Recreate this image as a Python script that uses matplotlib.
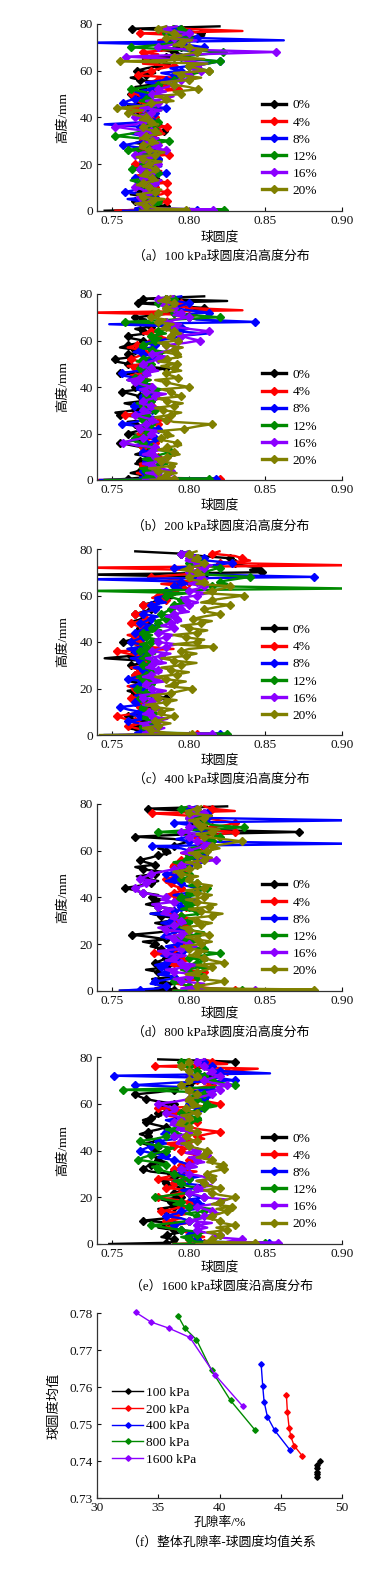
import matplotlib
matplotlib.use('Agg')
import matplotlib.pyplot as plt
from matplotlib.lines import Line2D
from matplotlib.ticker import FormatStrFormatter

plt.rcParams['font.family'] = ['Liberation Serif', 'Noto Sans CJK SC']
plt.rcParams['axes.unicode_minus'] = False

# ---------------- data ----------------
# measurement heights (mm)
H = [0, 0.5,
     1, 2, 3, 4, 5, 6, 7, 8, 9, 10,
     11, 12, 13, 14, 15, 16, 17, 18, 19, 20,
     21, 22, 23, 24, 25, 26, 27, 28, 29, 30,
     31, 32, 33, 34, 35, 36, 37, 38, 39, 40,
     41, 42, 43, 44, 45, 46, 47, 48, 49, 50,
     51, 52, 53, 54, 55, 56, 57, 58, 59, 60,
     61, 62, 63, 64, 65, 66, 67, 68, 69, 70,
     71, 72, 73, 74, 75, 76, 77, 78, 79]

labels = ['0%', '4%', '8%', '12%', '16%', '20%']

# (a) 100 kPa : sphericity at each height
a0 = [.745, .778,
      .770, .785, .772, .765, .778, .772, .762, .768, .780, .775,
      .766, .770, .782, .778, .768, .772, .780, .768, .770, .775,
      .768, .780, .770, .772, .782, .768, .774, .776, .765, .770,
      .780, .775, .768, .784, .770, .772, .782, .778, .768, .770,
      .776, .765, .772, .770, .760, .768, .775, .773, .766, .762,
      .772, .770, .765, .775, .780, .768, .762, .772, .778, .766,
      .772, .780, .788, .778, .770, .785, .795, .790, .782, .795,
      .800, .792, .785, .795, .810, .808, .800, .763, .820]
a4 = [.752, .770,
      .765, .775, .780, .786, .768, .770, .782, .786, .772, .778,
      .770, .786, .778, .772, .765, .776, .782, .770, .775, .765,
      .780, .775, .770, .787, .776, .772, .766, .778, .782, .770,
      .768, .776, .784, .780, .772, .786, .775, .772, .768, .778,
      .772, .770, .760, .765, .776, .772, .766, .768, .772, .763,
      .780, .793, .776, .785, .772, .780, .790, .767, .770, .775,
      .782, .790, .770, .778, .785, .772, .780, .770, .790, .782,
      .788, .795, .780, .790, .800, .768, .835, .795, .790]
a8 = [.757, .805,
      .765, .772, .780, .768, .760, .778, .770, .758, .766, .770,
      .780, .775, .770, .765, .778, .785, .768, .772, .782, .778,
      .770, .780, .765, .770, .782, .776, .768, .757, .765, .772,
      .780, .770, .762, .775, .780, .768, .745, .772, .778, .772,
      .768, .778, .772, .785, .770, .757, .760, .765, .775, .770,
      .765, .775, .782, .780, .772, .785, .795, .790, .782, .795,
      .788, .800, .812, .820, .798, .790, .800, .805, .795, .810,
      .800, .735, .862, .805, .792, .800, .785, .790, .795]
a12 = [.770, .823,
       .768, .775, .782, .780, .772, .770, .778, .778, .770, .772,
       .776, .768, .762, .775, .770, .780, .772, .763, .776, .770,
       .782, .775, .768, .770, .776, .760, .770, .772, .780, .787,
       .768, .752, .762, .770, .780, .776, .770, .780, .774, .772,
       .768, .775, .782, .770, .772, .778, .768, .772, .780, .776,
       .770, .762, .772, .780, .786, .790, .795, .800, .805, .813,
       .806, .800, .812, .820, .805, .795, .810, .822, .790, .762,
       .780, .790, .798, .800, .790, .785, .800, .795, .790]
a16 = [.772, .816,
       .778, .770, .765, .775, .780, .768, .776, .772, .770, .765,
       .772, .778, .782, .770, .768, .775, .780, .768, .772, .780,
       .768, .772, .778, .765, .770, .785, .776, .780, .770, .776,
       .780, .770, .765, .775, .762, .752, .765, .770, .776, .765,
       .770, .775, .782, .770, .778, .780, .772, .785, .790, .776,
       .785, .780, .786, .790, .784, .795, .805, .800, .795, .808,
       .800, .805, .812, .800, .790, .759, .805, .857, .800, .780,
       .788, .795, .805, .790, .795, .800, .790, .785, .792]
a20 = [.768, .798,
       .780, .772, .765, .776, .784, .770, .766, .778, .782, .774,
       .766, .770, .780, .776, .768, .772, .780, .778, .770, .774,
       .782, .770, .766, .778, .784, .774, .768, .770, .780, .776,
       .768, .772, .782, .778, .772, .770, .780, .775, .768, .772,
       .765, .760, .770, .753, .770, .775, .790, .785, .778, .795,
       .790, .806, .800, .790, .782, .800, .808, .795, .790, .813,
       .805, .800, .812, .755, .810, .790, .798, .805, .812, .800,
       .790, .795, .802, .785, .795, .790, .782, .780, .785]

# (b) 200 kPa
b0 = [.745, .760,
      .768, .770, .762, .768, .775, .772, .765, .768, .770, .775,
      .765, .770, .776, .770, .762, .755, .765, .768, .772, .760,
      .766, .770, .772, .765, .760, .775, .768, .755, .752, .765,
      .770, .765, .758, .770, .772, .768, .762, .756, .768, .765,
      .772, .768, .760, .765, .770, .755, .775, .785, .768, .760,
      .752, .752, .765, .760, .770, .765, .755, .760, .768, .770,
      .762, .760, .772, .770, .765, .775, .770, .768, .772, .765,
      .780, .790, .800, .810, .790, .767, .825, .770, .810]
b4 = [.740, .820,
      .780, .772, .766, .778, .782, .770, .768, .776, .784, .780,
      .770, .775, .780, .770, .765, .778, .782, .772, .766, .768,
      .778, .775, .770, .780, .776, .786, .770, .758, .768, .772,
      .780, .776, .768, .770, .782, .778, .770, .772, .780, .775,
      .766, .770, .775, .768, .762, .772, .770, .765, .760, .770,
      .768, .762, .766, .770, .775, .768, .760, .766, .772, .775,
      .785, .780, .770, .775, .782, .790, .795, .785, .790, .800,
      .805, .735, .835, .800, .790, .795, .788, .785, .790]
b8 = [.742, .818,
      .768, .775, .782, .770, .776, .780, .770, .772, .780, .776,
      .768, .770, .778, .775, .765, .772, .780, .778, .770, .774,
      .772, .780, .770, .756, .765, .772, .778, .770, .765, .776,
      .770, .764, .772, .775, .768, .770, .778, .772, .766, .768,
      .775, .770, .760, .765, .756, .756, .768, .770, .776, .772,
      .768, .775, .780, .770, .764, .768, .775, .778, .770, .780,
      .790, .795, .812, .790, .800, .795, .748, .843, .805, .800,
      .790, .813, .800, .790, .795, .800, .792, .785, .795]
b12 = [.745, .813,
       .770, .776, .782, .772, .768, .780, .786, .775, .770, .778,
       .782, .788, .780, .775, .768, .770, .762, .765, .770, .772,
       .778, .768, .772, .775, .780, .770, .766, .772, .776, .778,
       .782, .770, .766, .775, .780, .772, .770, .778, .782, .774,
       .768, .770, .775, .765, .770, .772, .776, .768, .772, .775,
       .766, .770, .776, .780, .785, .776, .768, .770, .775, .778,
       .782, .775, .785, .780, .788, .790, .795, .758, .790, .820,
       .800, .790, .795, .785, .790, .780, .786, .790, .785]
b16 = [.770, .790,
       .786, .780, .772, .788, .782, .776, .770, .782, .786, .778,
       .770, .775, .782, .778, .765, .757, .762, .770, .778, .775,
       .782, .768, .765, .772, .780, .776, .770, .765, .775, .770,
       .780, .775, .768, .770, .776, .778, .785, .772, .768, .776,
       .770, .765, .760, .768, .775, .772, .780, .775, .768, .770,
       .775, .780, .786, .776, .782, .790, .795, .785, .798, .807,
       .800, .795, .805, .813, .800, .790, .795, .785, .792, .800,
       .790, .795, .788, .790, .782, .785, .780, .780, .790]
b20 = [.775, .790,
       .780, .785, .792, .780, .774, .788, .792, .782, .778, .786,
       .794, .790, .780, .786, .795, .792, .784, .782, .790, .786,
       .780, .797, .805, .815, .790, .785, .778, .788, .795, .783,
       .778, .790, .796, .786, .780, .795, .790, .788, .782, .800,
       .792, .785, .778, .793, .788, .785, .795, .790, .782, .792,
       .780, .786, .795, .792, .784, .790, .796, .785, .780, .793,
       .786, .788, .795, .790, .782, .785, .790, .780, .785, .775,
       .782, .780, .790, .785, .792, .790, .780, .785, .788]

# (c) 400 kPa
c0 = [.760, .770,
      .775, .768, .760, .765, .772, .770, .764, .760, .772, .768,
      .778, .772, .768, .775, .780, .785, .772, .765, .760, .770,
      .775, .768, .762, .772, .766, .765, .772, .770, .768, .762,
      .770, .768, .745, .762, .775, .765, .760, .770, .765, .757,
      .762, .765, .772, .770, .766, .768, .775, .772, .764, .770,
      .772, .765, .770, .775, .780, .770, .776, .780, .790, .785,
      .788, .790, .800, .795, .790, .800, .805, .810, .735, .848,
      .840, .845, .835, .830, .828, .827, .808, .795, .765]
c4 = [.765, .805,
      .770, .772, .765, .760, .770, .765, .758, .753, .762, .770,
      .775, .768, .765, .772, .768, .762, .770, .768, .772, .765,
      .760, .770, .776, .775, .768, .765, .770, .768, .762, .772,
      .776, .770, .765, .768, .760, .753, .790, .772, .765, .768,
      .772, .765, .760, .770, .775, .770, .766, .762, .768, .772,
      .770, .765, .772, .778, .775, .770, .780, .785, .776, .780,
      .785, .790, .800, .795, .782, .800, .790, .775, .795, .810,
      .800, .735, .905, .820, .840, .835, .830, .815, .820]
c8 = [.745, .820,
      .765, .770, .778, .775, .768, .760, .772, .768, .762, .768,
      .760, .755, .768, .765, .772, .770, .765, .775, .768, .770,
      .762, .768, .772, .760, .766, .772, .775, .770, .764, .775,
      .770, .768, .762, .772, .770, .765, .760, .770, .768, .762,
      .766, .770, .775, .765, .768, .772, .778, .768, .772, .775,
      .780, .770, .772, .778, .782, .775, .785, .780, .778, .785,
      .790, .785, .795, .790, .800, .795, .735, .882, .810, .805,
      .800, .790, .815, .828, .812, .810, .805, .800, .795]
c12 = [.770, .825,
       .780, .775, .768, .770, .776, .778, .770, .772, .780, .776,
       .768, .770, .778, .775, .770, .768, .776, .772, .765, .766,
       .772, .775, .780, .770, .766, .772, .778, .776, .770, .770,
       .778, .775, .768, .772, .778, .768, .775, .772, .768, .775,
       .780, .772, .776, .770, .782, .776, .785, .780, .778, .785,
       .790, .782, .785, .788, .795, .790, .800, .795, .790, .785,
       .800, .735, .905, .815, .825, .820, .830, .840, .812, .810,
       .815, .820, .810, .800, .808, .805, .800, .795, .800]
c16 = [.755, .815,
       .770, .778, .784, .772, .768, .780, .786, .776, .770, .774,
       .782, .778, .770, .775, .782, .770, .768, .780, .785, .776,
       .770, .772, .784, .778, .770, .775, .782, .780, .772, .776,
       .785, .778, .772, .782, .788, .776, .780, .785, .792, .780,
       .778, .785, .790, .780, .786, .790, .782, .788, .795, .792,
       .785, .790, .800, .795, .788, .800, .806, .798, .795, .805,
       .812, .800, .806, .810, .800, .805, .812, .808, .802, .800,
       .805, .810, .815, .805, .798, .800, .805, .795, .800]
c20 = [.742, .802,
       .785, .775, .770, .780, .788, .778, .784, .790, .780, .782,
       .790, .778, .772, .785, .792, .780, .775, .788, .795, .802,
       .785, .790, .798, .785, .778, .792, .800, .788, .782, .795,
       .805, .790, .782, .798, .805, .795, .800, .816, .790, .805,
       .810, .798, .790, .805, .812, .800, .795, .808, .815, .803,
       .810, .820, .812, .810, .818, .827, .808, .815, .825, .836,
       .810, .815, .822, .827, .805, .810, .800, .800, .810, .805,
       .795, .800, .808, .810, .802, .805, .798, .800, .805]

# (d) 800 kPa
d0 = [.755, .790,
      .778, .785, .790, .782, .776, .790, .784, .780, .772, .785,
      .790, .778, .782, .785, .792, .790, .780, .782, .775, .778,
      .770, .785, .775, .763, .780, .790, .782, .785, .778, .788,
      .792, .782, .775, .786, .790, .780, .772, .778, .782, .776,
      .780, .770, .765, .758, .768, .775, .780, .772, .766, .778,
      .782, .770, .765, .778, .772, .768, .775, .780, .788, .785,
      .780, .790, .795, .800, .790, .765, .800, .872, .805, .810,
      .805, .800, .810, .805, .815, .810, .800, .773, .825]
d4 = [.790, .830,
      .815, .800, .792, .795, .808, .805, .798, .810, .795, .800,
      .788, .790, .800, .795, .785, .777, .790, .790, .800, .795,
      .805, .800, .790, .795, .802, .790, .795, .798, .788, .793,
      .800, .795, .785, .790, .795, .798, .805, .800, .790, .792,
      .785, .790, .798, .795, .790, .788, .795, .785, .792, .790,
      .798, .795, .788, .790, .800, .795, .805, .800, .795, .805,
      .812, .810, .805, .815, .810, .805, .820, .830, .810, .815,
      .825, .830, .820, .810, .800, .776, .830, .815, .810]
d8 = [.755, .768,
      .780, .785, .775, .778, .788, .790, .780, .785, .792, .782,
      .778, .785, .795, .790, .782, .795, .800, .788, .785, .793,
      .798, .790, .782, .785, .792, .795, .788, .790, .782, .788,
      .795, .790, .775, .790, .800, .795, .790, .800, .805, .798,
      .790, .800, .808, .805, .798, .795, .785, .790, .796, .785,
      .790, .795, .802, .800, .810, .805, .800, .810, .805, .800,
      .795, .776, .905, .800, .792, .800, .812, .810, .800, .805,
      .800, .790, .905, .812, .808, .812, .805, .800, .805]
d12 = [.790, .835,
       .805, .800, .795, .790, .798, .805, .810, .800, .795, .810,
       .800, .805, .812, .800, .808, .820, .805, .810, .798, .800,
       .805, .798, .790, .805, .810, .800, .795, .790, .802, .800,
       .790, .795, .808, .805, .795, .800, .805, .798, .792, .795,
       .805, .800, .808, .812, .800, .805, .798, .795, .802, .800,
       .795, .790, .800, .795, .790, .798, .805, .800, .810, .805,
       .800, .810, .812, .815, .810, .820, .815, .780, .805, .836,
       .815, .810, .805, .800, .810, .805, .798, .795, .800]
d16 = [.800, .843,
       .795, .805, .810, .795, .790, .800, .805, .790, .785, .798,
       .805, .795, .785, .790, .798, .785, .780, .795, .805, .800,
       .795, .790, .785, .795, .802, .785, .780, .790, .798, .795,
       .788, .790, .782, .785, .790, .780, .776, .790, .782, .785,
       .778, .770, .765, .765, .770, .772, .778, .768, .772, .775,
       .782, .790, .798, .795, .805, .818, .808, .805, .795, .800,
       .805, .810, .815, .805, .800, .800, .808, .795, .802, .800,
       .810, .805, .800, .800, .805, .810, .800, .805, .800]
d20 = [.800, .882,
       .812, .805, .815, .823, .808, .810, .798, .805, .812, .815,
       .805, .823, .815, .810, .800, .805, .812, .800, .795, .808,
       .815, .805, .798, .813, .808, .800, .795, .808, .815, .805,
       .800, .815, .822, .808, .800, .813, .818, .805, .798, .810,
       .815, .805, .798, .810, .815, .805, .798, .800, .806, .795,
       .790, .800, .808, .805, .798, .810, .815, .805, .800, .812,
       .820, .815, .825, .835, .822, .810, .805, .815, .820, .808,
       .812, .805, .800, .810, .815, .800, .798, .805, .808]

# (e) 1600 kPa
e0 = [.748, .785,
      .792, .790, .782, .786, .795, .790, .780, .785, .790, .770,
      .785, .790, .795, .785, .780, .790, .795, .788, .782, .795,
      .788, .790, .800, .795, .790, .785, .782, .790, .795, .788,
      .775, .770, .772, .775, .785, .780, .778, .785, .780, .778,
      .782, .775, .770, .780, .776, .773, .768, .773, .780, .785,
      .778, .772, .770, .775, .782, .780, .790, .785, .782, .790,
      .780, .772, .768, .765, .780, .790, .795, .800, .805, .810,
      .812, .815, .818, .820, .810, .805, .815, .830, .780]
e4 = [.790, .810,
      .805, .800, .810, .805, .798, .795, .785, .790, .800, .785,
      .795, .790, .800, .782, .790, .795, .805, .800, .790, .780,
      .788, .795, .800, .785, .792, .790, .798, .780, .788, .795,
      .805, .790, .798, .795, .805, .800, .810, .805, .798, .795,
      .800, .790, .785, .800, .810, .805, .812, .820, .808, .800,
      .795, .805, .800, .795, .785, .790, .798, .780, .810, .820,
      .812, .805, .815, .810, .805, .800, .808, .815, .810, .805,
      .810, .800, .820, .825, .845, .778, .825, .815, .810]
e8 = [.800, .852,
      .810, .805, .798, .800, .805, .795, .790, .790, .798, .800,
      .795, .785, .792, .795, .805, .800, .810, .805, .800, .810,
      .802, .800, .795, .805, .810, .795, .790, .800, .808, .790,
      .798, .795, .805, .800, .795, .790, .780, .785, .775, .768,
      .772, .775, .785, .780, .792, .790, .782, .785, .790, .795,
      .800, .790, .785, .795, .800, .800, .810, .805, .798, .800,
      .805, .810, .815, .805, .798, .815, .800, .765, .790, .830,
      .820, .751, .853, .820, .810, .815, .805, .810, .805]
e12 = [.790, .850,
       .805, .800, .795, .805, .810, .795, .785, .775, .790, .800,
       .808, .805, .798, .810, .815, .800, .790, .795, .785, .778,
       .790, .800, .808, .805, .798, .795, .790, .800, .795, .790,
       .785, .780, .776, .785, .778, .767, .770, .775, .780, .785,
       .790, .780, .772, .768, .778, .785, .795, .790, .785, .795,
       .798, .800, .808, .805, .800, .795, .805, .810, .818, .812,
       .808, .805, .800, .810, .805, .757, .815, .830, .820, .815,
       .812, .810, .805, .805, .800, .800, .795, .795, .800]
e16 = [.810, .858,
       .825, .835, .815, .820, .810, .805, .812, .805, .815, .800,
       .808, .810, .820, .815, .810, .805, .815, .820, .825, .810,
       .805, .800, .812, .805, .815, .810, .805, .815, .808, .800,
       .798, .795, .805, .800, .810, .805, .800, .812, .798, .805,
       .800, .800, .792, .795, .800, .790, .798, .800, .792, .795,
       .788, .790, .800, .795, .790, .785, .792, .790, .785, .780,
       .792, .800, .808, .815, .812, .820, .818, .825, .815, .810,
       .815, .820, .812, .815, .810, .810, .805, .805, .810]
e20 = [.805, .843,
       .810, .815, .822, .820, .812, .825, .818, .830, .822, .820,
       .812, .815, .820, .825, .818, .828, .815, .820, .825, .830,
       .820, .815, .810, .820, .812, .810, .805, .815, .818, .812,
       .815, .823, .818, .822, .812, .815, .805, .810, .815, .812,
       .805, .800, .795, .805, .800, .798, .805, .805, .798, .800,
       .792, .795, .802, .800, .795, .805, .800, .798, .808, .803,
       .798, .800, .806, .805, .798, .800, .795, .795, .802, .800,
       .808, .805, .800, .800, .795, .795, .800, .800, .800]

# (f) overall porosity (%) vs mean sphericity
f_labels = ['100 kPa', '200 kPa', '400 kPa', '800 kPa', '1600 kPa']
por_100 = [48.18, 47.96, 47.96, 47.96, 47.96, 47.96]
sph_100 = [0.7401, 0.7391, 0.7383, 0.7372, 0.7365, 0.7358]
por_200 = [45.46, 45.54, 45.68, 45.82, 46.09, 46.77]
sph_200 = [0.7579, 0.7534, 0.7491, 0.7467, 0.7442, 0.7414]
por_400 = [43.40, 43.53, 43.64, 43.91, 44.51, 45.76]
sph_400 = [0.7662, 0.7602, 0.7561, 0.7520, 0.7483, 0.7430]
por_800 = [36.63, 37.17, 38.12, 39.35, 40.90, 42.88]
sph_800 = [0.7791, 0.7759, 0.7728, 0.7645, 0.7564, 0.7485]
por_1600 = [33.15, 34.38, 35.87, 37.58, 39.62, 41.88]
sph_1600 = [0.7802, 0.7776, 0.7759, 0.7734, 0.7634, 0.7549]

captions = ['（a）100 kPa球圆度沿高度分布', '（b）200 kPa球圆度沿高度分布',
            '（c）400 kPa球圆度沿高度分布', '（d）800 kPa球圆度沿高度分布',
            '（e）1600 kPa球圆度沿高度分布', '（f）整体孔隙率-球圆度均值关系']

# ---------------- style / layout ----------------
colors = ['#000000', '#ff0000', '#0000ff', '#008a00', '#8b00ff', '#808000']
W, HP = 380.0, 1570.0
fig = plt.figure(figsize=(3.8, 15.7), dpi=100)

def add_ax(top, bottom):
    return fig.add_axes([97 / W, 1 - bottom / HP, 245 / W, (bottom - top) / HP])

def style_ax(ax):
    for s in ['top', 'right']:
        ax.spines[s].set_visible(False)
    for s in ['left', 'bottom']:
        ax.spines[s].set_linewidth(0.9)
        ax.spines[s].set_color('#333333')
    ax.tick_params(direction='in', length=3, width=0.8, labelsize=9.6, pad=3, colors='#111111')

panels = [
    ([a0, a4, a8, a12, a16, a20], 24, 210.7, 237, 257),
    ([b0, b4, b8, b12, b16, b20], 294, 480, 505, 527),
    ([c0, c4, c8, c12, c16, c20], 549, 735, 760, 780),
    ([d0, d4, d8, d12, d16, d20], 804, 990.7, 1013, 1033),
    ([e0, e4, e8, e12, e16, e20], 1057, 1244, 1267, 1287),
]

for i, (series, top, bot, ylab, ycap) in enumerate(panels):
    ax = add_ax(top, bot)
    for vals, col in zip(series, colors):
        ax.plot(vals, H, color=col, lw=1.7, marker='D', ms=3.9, markevery=(1, 2))
    ax.set_xlim(0.74, 0.90)
    ax.set_ylim(0, 80)
    ax.set_xticks([0.75, 0.80, 0.85, 0.90])
    ax.set_yticks([0, 20, 40, 60, 80])
    ax.xaxis.set_major_formatter(FormatStrFormatter('%.2f'))
    style_ax(ax)
    ax.set_ylabel('高度/mm', fontsize=9.5)
    ax.yaxis.set_label_coords(-0.115, 0.5)
    handles = [Line2D([], [], color=c, lw=2.4, marker='D', ms=4.5) for c in colors]
    ax.legend(handles, labels, loc='upper left', bbox_to_anchor=(0.672, 0.598),
              frameon=False, fontsize=9.6, handlelength=1.8, handletextpad=0.5,
              labelspacing=0.36, borderpad=0, borderaxespad=0)
    fig.text(219.5 / W, 1 - ylab / HP, '球圆度', ha='center', va='center', fontsize=9.2)
    fig.text(221 / W, 1 - ycap / HP, captions[i], ha='center', va='center', fontsize=9.3)

# panel f
axf = add_ax(1313, 1498.3)
fseries = [(por_100, sph_100), (por_200, sph_200), (por_400, sph_400),
           (por_800, sph_800), (por_1600, sph_1600)]
fcolors = ['#000000', '#ff0000', '#0000ff', '#008a00', '#8b00ff']
for (px, py), col, lab in zip(fseries, fcolors, f_labels):
    axf.plot(px, py, color=col, lw=1.0, marker='D', ms=2.8, label=lab, clip_on=False)
axf.set_xlim(30, 50)
axf.set_ylim(0.73, 0.78)
axf.set_xticks([30, 35, 40, 45, 50])
axf.set_yticks([0.73, 0.74, 0.75, 0.76, 0.77, 0.78])
axf.yaxis.set_major_formatter(FormatStrFormatter('%.2f'))
style_ax(axf)
axf.set_ylabel('球圆度均值', fontsize=9.5)
axf.yaxis.set_label_coords(-0.15, 0.5)
axf.legend(loc='upper left', bbox_to_anchor=(0.062, 0.603), frameon=False, fontsize=9.6,
           handlelength=2.3, handletextpad=0.2, labelspacing=0.33, borderpad=0, borderaxespad=0)
fig.text(219.5 / W, 1 - 1523 / HP, '孔隙率/%', ha='center', va='center', fontsize=9.2)
fig.text(221 / W, 1 - 1543 / HP, captions[5], ha='center', va='center', fontsize=9.3)

fig.savefig('out.png', dpi=100)
